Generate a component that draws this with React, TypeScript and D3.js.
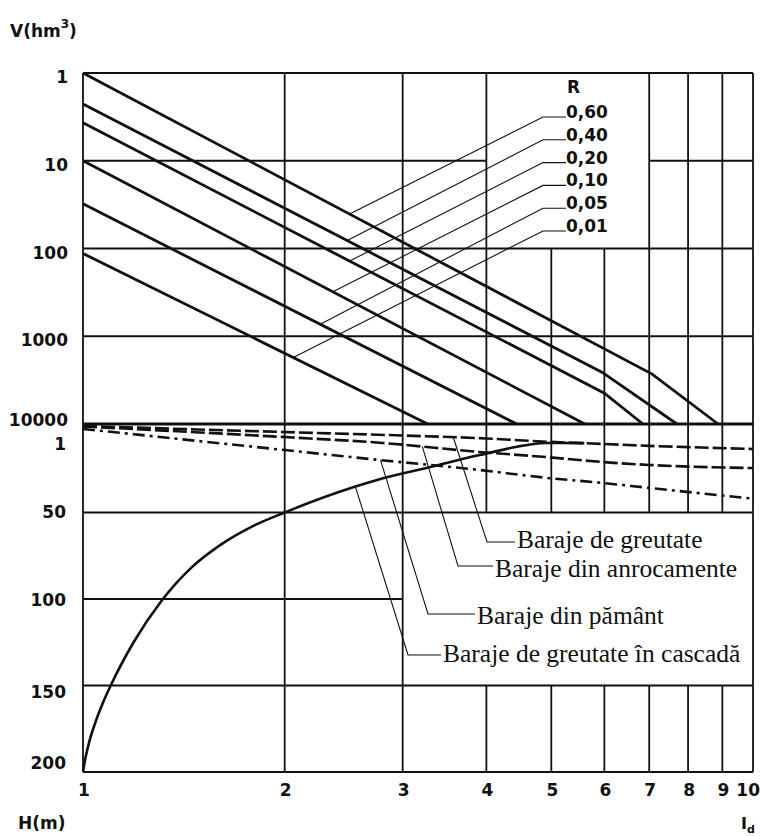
import React, { useEffect, useRef } from "react";
import * as d3 from "d3";

const W = 761;
const H = 836;

// shared x axis: Id (log)
const idTicks = [1, 2, 3, 4, 5, 6, 7, 8, 9, 10];
// upper panel: V (hm3), log scale, growing downward
const vTicks = [1, 10, 100, 1000, 10000];
// lower panel: H (m)
const hTicks = [1, 50, 100, 150, 200];

// R curves, [Id, V] vertices, top to bottom
const rLabels = ["0,60", "0,40", "0,20", "0,10", "0,05", "0,01"];
const rCurves: [number, number][][] = [
  [[1, 1], [7.07, 2700], [8.87, 10000]],
  [[1, 2.25], [5.95, 2570], [7.7, 10000]],
  [[1, 3.7], [6.0, 4450], [6.85, 10000]],
  [[1, 10], [5.61, 10000]],
  [[1, 31], [4.44, 10000]],
  [[1, 114], [3.27, 10000]],
];
// Id at which each R leader touches its curve
const rLeaderId = [2.5, 2.48, 2.5, 2.36, 2.26, 2.06];

// dam types, [Id, H] points
const damLabels = [
  "Baraje de greutate",
  "Baraje din anrocamente",
  "Baraje din pământ",
  "Baraje de greutate în cascadă",
];
const greutate: [number, number][] = [
  [1, 0], [2, 3.5], [3, 5.5], [4, 7.2], [5, 9.2], [6, 10.4], [7, 11.5], [8, 12.2], [10, 13.3],
];
const anrocamente: [number, number][] = [
  [1, 0.3], [2, 6.4], [2.8, 9.8], [3.9, 15], [4.93, 18], [5.95, 20.8], [7, 22.5], [10, 24.3],
];
const pamant: [number, number][] = [
  [1, 1.7], [2, 13.9], [2.78, 19.7], [3.9, 25.4], [4.93, 30], [6, 33], [7, 35.8], [10, 42],
];
const cascada: [number, number][] = [
  [1, 200], [1.007, 193], [1.021, 183], [1.042, 172], [1.071, 160], [1.1, 150], [1.19, 125],
  [1.31, 101], [1.45, 82], [1.6, 69], [1.79, 58], [2, 50], [2.55, 35], [2.78, 30.6],
  [3.3, 23.7], [3.91, 16.8], [4.93, 9.8], [5.6, 9.9],
];
const damSeries = [greutate, anrocamente, pamant, cascada];
const damDash = ["14,4", "14,4", "12,5,3,5", null];
const damLeaderId = [3.57, 3.21, 2.78, 2.55];

// annotation layout (pixels)
const rLegend = { cornerX: 543, textX: 566, y0: 117, step: 22.8, titleY: 93 };
const damLegend = [
  { cx: 487, tx: 517, y: 542, base: 548 },
  { cx: 458, tx: 495, y: 566, base: 577 },
  { cx: 428, tx: 477, y: 614, base: 624 },
  { cx: 408, tx: 443, y: 655, base: 662 },
];
const hLabelShift = [17, 0, 2, 7, -8];

function interp(pts: [number, number][], id: number, logY: boolean) {
  for (let k = 0; k < pts.length - 1; k++) {
    const [a, va] = pts[k];
    const [b, vb] = pts[k + 1];
    if (id >= a && id <= b) {
      const t = Math.log(id / a) / Math.log(b / a);
      return logY ? Math.exp(Math.log(va) + t * (Math.log(vb) - Math.log(va))) : va + t * (vb - va);
    }
  }
  return pts[pts.length - 1][1];
}

export default function App() {
  const ref = useRef<SVGSVGElement>(null);

  useEffect(() => {
    document.body.style.margin = "0";
    const svg = d3.select(ref.current);
    svg.selectAll("*").remove();

    const ink = "#111";
    const x = d3.scaleLog().domain([1, 10]).range([83, 753]);
    const yV = d3.scaleLog().domain([1, 10000]).range([73, 424]);
    const yH = d3.scaleLinear().domain([0, 200]).range([426, 772]);

    const grid = svg.append("g").attr("stroke", ink).attr("fill", "none").attr("stroke-width", 1.8);

    // vertical grid, upper panel (no 5/6 lines where the R legend sits)
    for (let i = 0; i < vTicks.length - 1; i++) {
      idTicks.forEach(id => {
        if (i < 2 && (id === 5 || id === 6)) return;
        grid.append("line")
          .attr("x1", x(id)).attr("x2", x(id))
          .attr("y1", yV(vTicks[i])).attr("y2", yV(vTicks[i + 1]));
      });
    }
    // vertical grid, lower panel (legend box between 3 and 10)
    const hGrid = [0, 50, 150, 200];
    for (let i = 0; i < hGrid.length - 1; i++) {
      idTicks.forEach(id => {
        if (i === 1 && id > 3 && id < 10) return;
        grid.append("line")
          .attr("x1", x(id)).attr("x2", x(id))
          .attr("y1", i === 0 ? yV(10000) : yH(hGrid[i])).attr("y2", yH(hGrid[i + 1]));
      });
    }
    // horizontal grid
    vTicks.forEach(v => {
      const segs = v === 10 ? [[1, 4], [7, 10]] : [[1, 10]];
      segs.forEach(([a, b]) => {
        grid.append("line")
          .attr("x1", x(a)).attr("x2", x(b))
          .attr("y1", yV(v)).attr("y2", yV(v))
          .attr("stroke-width", v === 10000 ? 3 : 1.8);
      });
    });
    hTicks.slice(1).forEach(h => {
      grid.append("line")
        .attr("x1", x(1)).attr("x2", x(h === 100 ? 3 : 10))
        .attr("y1", yH(h)).attr("y2", yH(h));
    });

    // R curves
    const vLine = d3.line<[number, number]>().x(d => x(d[0])).y(d => yV(d[1]));
    svg.append("g").selectAll("path").data(rCurves).join("path")
      .attr("d", d => vLine(d))
      .attr("fill", "none").attr("stroke", ink).attr("stroke-width", 2.8);

    // R legend with leaders
    const leg = svg.append("g");
    leg.append("text").attr("x", rLegend.textX + 1).attr("y", rLegend.titleY)
      .attr("font-family", "DejaVu Sans").attr("font-weight", "bold").attr("font-size", 17)
      .attr("fill", ink).text("R");
    rLabels.forEach((lab, i) => {
      const y = rLegend.y0 + i * rLegend.step;
      const id = rLeaderId[i];
      const v = interp(rCurves[i], id, true);
      leg.append("path")
        .attr("d", `M${rLegend.textX},${y}H${rLegend.cornerX}L${x(id)},${yV(v)}`)
        .attr("fill", "none").attr("stroke", ink).attr("stroke-width", 1.1);
      leg.append("text").attr("x", rLegend.textX).attr("y", y + 1)
        .attr("font-family", "DejaVu Sans").attr("font-weight", "bold").attr("font-size", 17)
        .attr("fill", ink).text(lab);
    });

    // dam type curves
    const hLine = d3.line<[number, number]>().x(d => x(d[0])).y(d => yH(d[1])).curve(d3.curveMonotoneX);
    damSeries.forEach((s, i) => {
      svg.append("path").attr("d", hLine(s))
        .attr("fill", "none").attr("stroke", ink).attr("stroke-width", 2.6)
        .attr("stroke-dasharray", damDash[i]);
    });

    // dam legend with leaders
    damLabels.forEach((lab, i) => {
      const L = damLegend[i];
      const id = damLeaderId[i];
      const h = interp(damSeries[i], id, false);
      svg.append("path")
        .attr("d", `M${L.tx - 2},${L.y}H${L.cx}L${x(id)},${yH(h)}`)
        .attr("fill", "none").attr("stroke", ink).attr("stroke-width", 1.1);
      svg.append("text").attr("x", L.tx).attr("y", L.base)
        .attr("font-family", "Liberation Serif").attr("font-size", 25.5)
        .attr("fill", ink).text(lab);
    });

    // axis labels
    const lab = svg.append("g").attr("font-family", "DejaVu Sans").attr("font-weight", "bold")
      .attr("font-size", 17).attr("fill", ink);
    vTicks.forEach((v, i) => {
      lab.append("text").attr("x", 68).attr("y", yV(v) + (i === vTicks.length - 1 ? -3 : 5))
        .attr("text-anchor", "end").attr("dominant-baseline", "middle").text(String(v));
    });
    hTicks.forEach((h, i) => {
      lab.append("text").attr("x", 66).attr("y", yH(h) + hLabelShift[i])
        .attr("text-anchor", "end").attr("dominant-baseline", "middle").text(String(h));
    });
    idTicks.forEach((id, i) => {
      const last = i === idTicks.length - 1;
      lab.append("text").attr("x", last ? x(id) + 7 : x(id) + 1).attr("y", 791)
        .attr("text-anchor", last ? "end" : "middle").attr("dominant-baseline", "middle")
        .text(String(id));
    });

    const vt = lab.append("text").attr("x", 10).attr("y", 37);
    vt.append("tspan").text("V(hm");
    vt.append("tspan").attr("font-size", 12).attr("dy", -9).text("3");
    vt.append("tspan").attr("dy", 9).text(")");
    lab.append("text").attr("x", 18).attr("y", 829).text("H(m)");
    const it = lab.append("text").attr("x", 741).attr("y", 829).attr("font-size", 16);
    it.append("tspan").text("I");
    it.append("tspan").attr("font-size", 11).attr("dy", 4).text("d");
  }, []);

  return (
    <svg ref={ref} width={W} height={H}
      style={{ display: "block", position: "absolute", left: 0, top: 0, background: "#fff" }} />
  );
}
